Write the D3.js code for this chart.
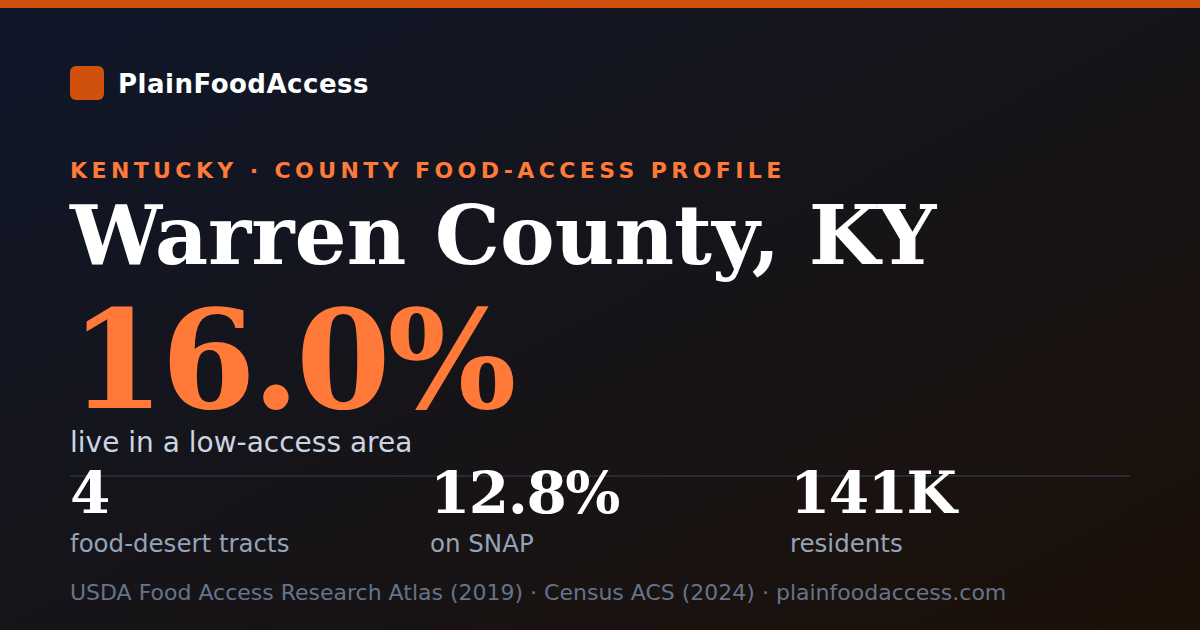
<!DOCTYPE html>
<html>
<head>
<meta charset="utf-8">
<script src="https://cdn.jsdelivr.net/npm/d3@7"></script>
<style>
  html, body { margin: 0; padding: 0; background: #111; }
  svg { display: block; }
</style>
</head>
<body>
<div id="card"></div>
<script>
const brand = "PlainFoodAccess";
const kicker = "KENTUCKY · COUNTY FOOD-ACCESS PROFILE";
const title = "Warren County, KY";
const headline = "16.0%";
const headlineLabel = "live in a low-access area";
const statValues = ["4", "12.8%", "141K"];
const statLabels = ["food-desert tracts", "on SNAP", "residents"];
const sourceText = "USDA Food Access Research Atlas (2019) · Census ACS (2024) · plainfoodaccess.com";

const width = 1200;
const height = 630;
const sans = "'DejaVu Sans', sans-serif";
const serif = "'DejaVu Serif', serif";

const svg = d3.select("#card")
    .append("svg")
    .attr("width", width)
    .attr("height", height);

const defs = svg.append("defs");
const grad = defs.append("linearGradient")
    .attr("id", "bg")
    .attr("x1", "0%").attr("y1", "0%")
    .attr("x2", "100%").attr("y2", "100%");
grad.append("stop").attr("offset", "0%").attr("stop-color", "#0f172a");
grad.append("stop").attr("offset", "50%").attr("stop-color", "#161419");
grad.append("stop").attr("offset", "100%").attr("stop-color", "#1c1007");

svg.append("rect")
    .attr("width", width)
    .attr("height", height)
    .attr("fill", "url(#bg)");

svg.append("rect")
    .attr("width", width)
    .attr("height", 8)
    .attr("fill", "#cf510d");

// brand
svg.append("rect")
    .attr("x", 70).attr("y", 66)
    .attr("width", 34).attr("height", 34)
    .attr("rx", 6)
    .attr("fill", "#cf510d");

svg.append("text")
    .attr("x", 118).attr("y", 93)
    .style("font-family", sans)
    .style("font-weight", "bold")
    .style("font-size", "26px")
    .style("letter-spacing", "0.5px")
    .attr("fill", "#ffffff")
    .text(brand);

svg.append("text")
    .attr("x", 70).attr("y", 178)
    .style("font-family", sans)
    .style("font-weight", "bold")
    .style("font-size", "22px")
    .style("letter-spacing", "4.4px")
    .attr("fill", "#ff7a38")
    .text(kicker);

svg.append("text")
    .attr("x", 70).attr("y", 264)
    .style("font-family", serif)
    .style("font-weight", "bold")
    .style("font-size", "82px")
    .attr("fill", "#ffffff")
    .text(title);

svg.append("text")
    .attr("x", 70).attr("y", 408)
    .style("font-family", serif)
    .style("font-weight", "bold")
    .style("font-size", "136px")
    .style("letter-spacing", "-3.5px")
    .attr("fill", "#ff7a38")
    .text(headline);

svg.append("text")
    .attr("x", 70).attr("y", 452)
    .style("font-family", sans)
    .style("font-size", "28px")
    .attr("fill", "#cbd5e1")
    .text(headlineLabel);

svg.append("line")
    .attr("x1", 70).attr("x2", 1130)
    .attr("y1", 476).attr("y2", 476)
    .attr("stroke", "#262b35")
    .attr("stroke-width", 2);

// stat columns
const x = d3.scaleBand()
    .domain(d3.range(statValues.length))
    .range([70, 1150]);

const stats = svg.selectAll(".stat")
    .data(statValues.map((v, i) => ({ value: v, label: statLabels[i], i })))
    .enter()
    .append("g")
    .attr("class", "stat")
    .attr("transform", d => `translate(${x(d.i)},0)`);

stats.append("text")
    .attr("y", 513)
    .style("font-family", serif)
    .style("font-weight", "bold")
    .style("font-size", "58px")
    .style("letter-spacing", "-1.5px")
    .attr("fill", "#ffffff")
    .text(d => d.value);

stats.append("text")
    .attr("y", 552)
    .style("font-family", sans)
    .style("font-size", "24.5px")
    .attr("fill", "#94a3b8")
    .text(d => d.label);

svg.append("text")
    .attr("x", 70).attr("y", 600)
    .style("font-family", sans)
    .style("font-size", "22px")
    .attr("fill", "#64748b")
    .text(sourceText);
</script>
</body>
</html>
